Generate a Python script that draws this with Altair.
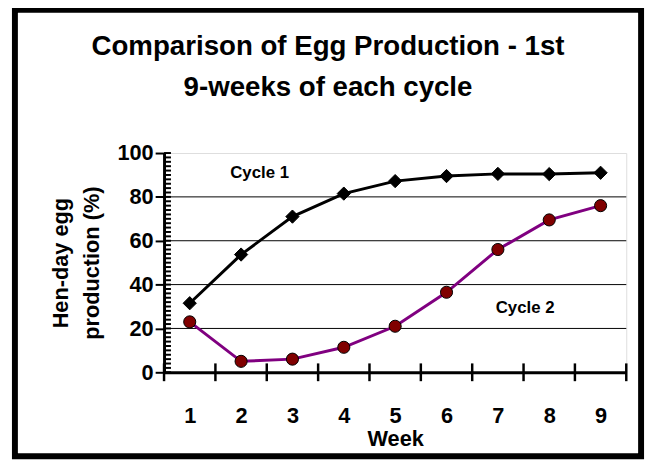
import altair as alt
import pandas as pd

weeks = [1, 2, 3, 4, 5, 6, 7, 8, 9]
cycle1 = [31.5, 53.7, 71.0, 81.5, 87.2, 89.5, 90.5, 90.4, 91.0]
cycle2 = [23.0, 5.0, 6.0, 11.4, 21.0, 36.5, 56.0, 69.5, 76.0]
series = ["Cycle 1", "Cycle 2"]
label_weeks = [2.36, 7.53]
label_values = [91.0, 29.4]
y_ticks = [0, 20, 40, 60, 80, 100]
grid_values = [20, 40, 60, 80]
minor_ticks = list(range(0, 101, 2))
title_lines = ["Comparison of Egg Production - 1st", "9-weeks of each cycle"]

W, H = 468, 222
FONT = "Liberation Sans"

df = pd.DataFrame({
    "week": weeks * 2,
    "value": cycle1 + cycle2,
    "series": [series[0]] * len(weeks) + [series[1]] * len(weeks),
})
bounds_df = pd.DataFrame({"week": [weeks[0] - 0.5] + [w + 0.5 for w in weeks]})
grid_df = pd.DataFrame({"value": grid_values})
minor_df = pd.DataFrame({"value": minor_ticks})
labels_df = pd.DataFrame({"week": label_weeks, "value": label_values, "series": series})

x_enc = alt.X(
    "week:Q",
    scale=alt.Scale(domain=[0.5, 9.5], nice=False, zero=False),
    axis=alt.Axis(
        values=weeks, ticks=False, tickSize=0, grid=False,
        domainColor="black", domainWidth=3,
        labelFont=FONT, labelFontSize=22, labelFontWeight="bold", labelColor="black",
        labelPadding=34, labelFlush=False,
        title="Week", titleFont=FONT, titleFontSize=22, titleFontWeight="bold",
        titleColor="black", titlePadding=2,
    ),
)
y_enc = alt.Y(
    "value:Q",
    scale=alt.Scale(domain=[0, 100], nice=False),
    axis=alt.Axis(
        values=y_ticks, grid=False, tickSize=9, tickWidth=2, tickColor="black",
        domainColor="black", domainWidth=3,
        labelFont=FONT, labelFontSize=22, labelFontWeight="bold", labelColor="black",
        labelPadding=2,
        title=["Hen-day egg", "production (%)"], titleFont=FONT, titleFontSize=22,
        titleFontWeight="bold", titleColor="black", titleLineHeight=31, titlePadding=14,
    ),
)

frame = alt.Chart(alt.Data(values=[{}])).mark_rect(
    fillOpacity=0, stroke="black", strokeWidth=6
).encode(
    x=alt.value(-151), x2=alt.value(483), y=alt.value(-145), y2=alt.value(307)
)

title = alt.Chart(alt.Data(values=[{}])).mark_text(
    text=title_lines, font=FONT, fontSize=28, fontWeight="bold", color="black",
    align="center", baseline="alphabetic", lineHeight=41,
).encode(x=alt.value(166), y=alt.value(-99))

grid = alt.Chart(grid_df).mark_rule(color="black", strokeWidth=1).encode(y=y_enc)

minor = alt.Chart(minor_df).mark_rule(color="black", strokeWidth=2).encode(
    y=y_enc, x=alt.value(0), x2=alt.value(7)
)

xticks = alt.Chart(bounds_df).mark_rule(color="black", strokeWidth=2.5).encode(
    x=x_enc, y=alt.value(H - 9), y2=alt.value(H + 9)
)

lines = alt.Chart(df).mark_line(strokeWidth=3).encode(
    x=x_enc, y=y_enc,
    color=alt.Color("series:N", scale=alt.Scale(domain=series, range=["black", "#800080"]), legend=None),
)

pts1 = alt.Chart(df).transform_filter(alt.datum.series == series[0]).mark_point(
    shape="diamond", filled=True, fill="black", stroke="black", strokeWidth=1, size=180, opacity=1
).encode(x=x_enc, y=y_enc)

pts2 = alt.Chart(df).transform_filter(alt.datum.series == series[1]).mark_point(
    shape="circle", filled=True, fill="#800000", stroke="black", strokeWidth=1, size=150, opacity=1
).encode(x=x_enc, y=y_enc)

texts = alt.Chart(labels_df).mark_text(
    font=FONT, fontSize=17, fontWeight="bold", color="black", align="center", baseline="middle"
).encode(x=x_enc, y=y_enc, text="series:N")

chart = alt.layer(frame, title, grid, minor, xticks, lines, pts1, pts2, texts).properties(
    width=W, height=H,
    autosize=alt.AutoSizeParams(type="none"),
    padding={"left": 158, "top": 144, "right": 22, "bottom": 90},
).configure_view(stroke="#808080", strokeWidth=1).configure(background="white")

chart.save("out.html", embed_options={"renderer": "svg", "actions": False})
